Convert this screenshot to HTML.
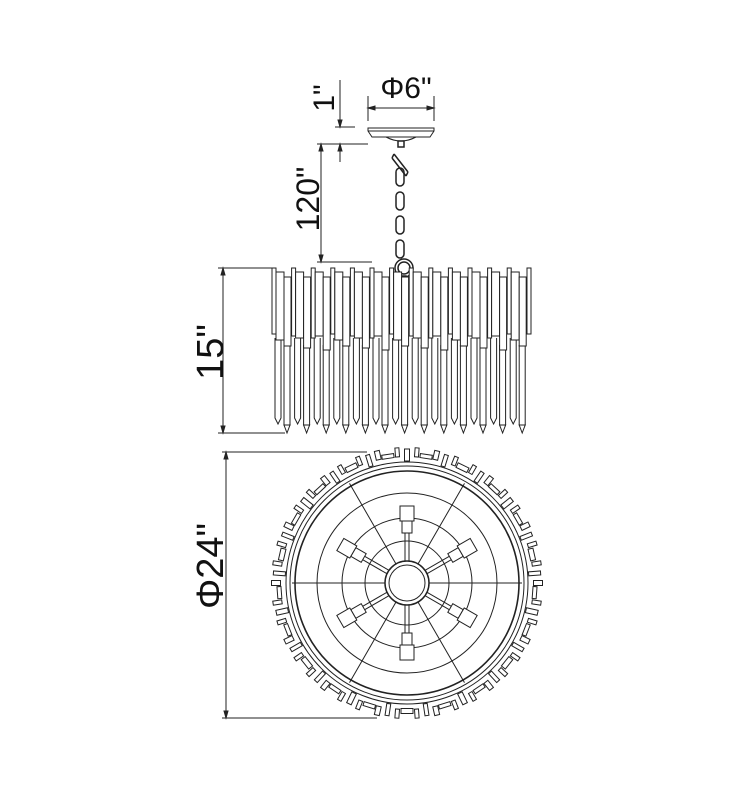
<!DOCTYPE html>
<html><head><meta charset="utf-8"><style>
html,body{margin:0;padding:0;background:#fff;}
svg{display:block;}
text{font-family:"Liberation Sans",sans-serif;fill:#111;}
</style></head><body>
<svg id="s" width="730" height="800" viewBox="0 0 730 800" xmlns="http://www.w3.org/2000/svg">
<g stroke="#222" stroke-width="1" fill="none">
<line x1="368" y1="96" x2="368" y2="121"/><line x1="434" y1="96" x2="434" y2="121"/>
<line x1="368" y1="108" x2="434" y2="108"/>
<path d="M368 108 l7 -2 v4z M434 108 l-7 -2 v4z" fill="#222"/>
<path d="M368 128 h66 v3 l-4 6 h-58 l-4 -6z" fill="#fff"/>
<line x1="368" y1="131" x2="434" y2="131"/>
<path d="M386 137 q15 8 30 0"/>
<line x1="340" y1="80" x2="340" y2="127"/>
<path d="M340 127 l-2 -7 h4z" fill="#222"/>
<line x1="335" y1="127" x2="355" y2="127"/>
<line x1="317" y1="144" x2="368" y2="144"/>
<line x1="340" y1="144" x2="340" y2="162"/>
<path d="M340 144 l-2 7 h4z" fill="#222"/>
<line x1="321" y1="144" x2="321" y2="262"/>
<path d="M321 144 l-2 7 h4z M321 262 l-2 -7 h4z" fill="#222"/>
<line x1="317" y1="262" x2="372" y2="262"/>
<g stroke-width="1.5">
<rect x="398" y="141" width="6" height="6"/>
<path d="M394 154 l14 18 M392 158 l14 18 M394 154 l-2 4 M408 172 l-2 4"/>
<rect x="396" y="168" width="8" height="18" rx="4"/>
<rect x="396" y="192" width="8" height="18" rx="4"/>
<rect x="396" y="216" width="8" height="18" rx="4"/>
<rect x="396" y="240" width="8" height="18" rx="4"/>
<circle cx="404" cy="268" r="9"/><circle cx="404" cy="268" r="6"/>
<rect x="400" y="276" width="6" height="8"/>
</g>
<line x1="223" y1="268" x2="223" y2="433"/>
<path d="M223 268 l-2 7 h4z M223 433 l-2 -7 h4z" fill="#222"/>
<line x1="218" y1="268" x2="275" y2="268"/>
<line x1="218" y1="433" x2="285" y2="433"/>
<g id="side"></g>
<line x1="226" y1="452" x2="226" y2="718"/>
<path d="M226 452 l-2 7 h4z M226 718 l-2 -7 h4z" fill="#222"/>
<line x1="222" y1="452" x2="367" y2="452"/>
<line x1="222" y1="718" x2="377" y2="718"/>
<g id="ring"></g>
<circle cx="407" cy="583" r="121"/>
<circle cx="407" cy="583" r="117"/>
<circle cx="407" cy="583" r="112" stroke-width="1.6"/>
<circle cx="407" cy="583" r="90"/>
<circle cx="407" cy="583" r="65"/>
<circle cx="407" cy="583" r="42"/>
<g id="spk"></g>
<circle cx="407" cy="583" r="22" fill="#fff" stroke-width="1.5"/>
<circle cx="407" cy="583" r="18"/>
</g>
<text x="406" y="98" font-size="30" text-anchor="middle">Φ6"</text>
<text transform="translate(334,98) rotate(-90)" font-size="30" text-anchor="middle">1"</text>
<text transform="translate(319,199) rotate(-90)" font-size="32" text-anchor="middle">120"</text>
<text transform="translate(223,352) rotate(-90)" font-size="38" text-anchor="middle">15"</text>
<text transform="translate(223,566) rotate(-90)" font-size="38" text-anchor="middle">Φ24"</text>
</svg>
<script>
var NS="http://www.w3.org/2000/svg";
function el(p,t,a){var e=document.createElementNS(NS,t);for(var k in a)e.setAttribute(k,a[k]);p.appendChild(e);return e;}
var side=document.getElementById("side");
for(var i=0;i<13;i++){var p=272+i*19.6;
 var off=(i%3)*2;
 el(side,"path",{d:"M"+(p+12)+" 345 v80 l3 6 l3 -6 v-80",fill:"#fff"});
 el(side,"path",{d:"M"+(p+3)+" 338 v80 l3 6 l3 -6 v-80",fill:"#fff"});
 el(side,"path",{d:"M"+(p+12)+" 425 l3 8 l3 -8z",fill:"#fff"});
 el(side,"rect",{x:p,y:268,width:4,height:66+off,fill:"#fff"});
 el(side,"rect",{x:p+4,y:272,width:8,height:68-off,fill:"#fff"});
 el(side,"rect",{x:p+12,y:277,width:7,height:69+off,fill:"#fff"});
}
el(side,"rect",{x:527,y:268,width:4,height:66,fill:"#fff"});
var ring=document.getElementById("ring");
for(var i=0;i<84;i++){var a=i/84*2*Math.PI;var r=(i%2?128:131);var w=(i%3==0)?5:4,h=(i%2)?12:9;
 var x=407+Math.cos(a)*r,y=583+Math.sin(a)*r,d=a*180/Math.PI;
 el(ring,"rect",{x:-h/2,y:-w/2,width:h,height:w,fill:"#fff",transform:"translate("+x.toFixed(1)+","+y.toFixed(1)+") rotate("+(d+(i%4==1?90:0))+")"});
}
var spk=document.getElementById("spk");
[0,60,120].forEach(function(d){var a=d*Math.PI/180;
 el(spk,"line",{x1:407-Math.cos(a)*115,y1:583-Math.sin(a)*115,x2:407+Math.cos(a)*115,y2:583+Math.sin(a)*115});});
[30,90,150,210,270,330].forEach(function(d){
 var g=el(spk,"g",{transform:"translate(407,583) rotate("+d+")"});
 el(g,"line",{x1:22,y1:-2,x2:50,y2:-2});el(g,"line",{x1:22,y1:2,x2:50,y2:2});
 el(g,"rect",{x:50,y:-5,width:12,height:10,fill:"#fff"});
 el(g,"rect",{x:62,y:-7,width:15,height:14,fill:"#fff"});
});
</script>
</body></html>
